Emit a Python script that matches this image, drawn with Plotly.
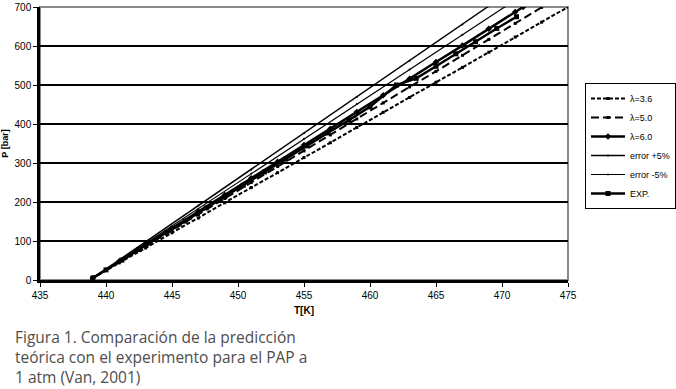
import plotly.graph_objects as go

# ---- data ----
T_model = [439, 441, 443, 445, 447, 449, 451, 453, 455, 457, 459, 461, 463, 465, 467, 469, 471, 473, 475]
P_l36 = [5, 44, 82, 121, 159, 198, 237, 275, 314, 352, 391, 430, 468, 507, 545, 584, 623, 661, 700]

T_l50 = [439, 441, 443, 445, 447, 449, 451, 453, 455, 457, 459, 461, 463, 465, 467, 469, 471, 473]
P_l50 = [5, 46, 87, 127, 168, 209, 250, 291, 331, 372, 413, 454, 495, 535, 576, 617, 658, 699]

T_l60 = [439, 441, 443, 445, 447, 449, 451, 453, 455, 457, 459, 461, 463, 465, 467, 469, 471, 471.6]
P_l60 = [5, 48, 90, 133, 175, 218, 261, 303, 346, 388, 431, 474, 516, 559, 601, 644, 687, 700]

T_errp = [439, 443, 447, 451, 455, 459, 463, 467, 468.9]
P_errp = [5, 98, 191, 283, 376, 469, 562, 655, 700]

T_errm = [439, 443, 447, 451, 455, 459, 463, 467, 470.2]
P_errm = [5, 94, 183, 273, 362, 451, 540, 629, 700]

T_exp = [439.0, 440.0, 441.2, 442.5, 443.3, 444.6, 446.0, 447.6, 449.0, 450.4, 452.0, 453.6,
         455.2, 456.8, 458.4, 460.0, 462.0, 463.5, 465.0, 466.5, 468.0, 469.6, 471.1]
P_exp = [5, 26, 51, 78, 95, 122, 151, 185, 214, 243, 277, 310,
         344, 377, 410, 444, 500, 517, 548, 580, 611, 645, 675]

x_ticks = [435, 440, 445, 450, 455, 460, 465, 470, 475]
y_ticks = [0, 100, 200, 300, 400, 500, 600, 700]

caption = ("Figura 1. Comparación de la predicción<br>"
           "teórica con el experimento para el PAP a<br>"
           "1 atm (Van, 2001)")

fig = go.Figure()

fig.add_trace(go.Scatter(x=T_model, y=P_l36, name="λ=3.6", legendgroup="a", mode="lines+markers",
                         line=dict(color="black", width=2, dash="4px,2px"),
                         marker=dict(symbol="square", size=3, color="black")))
fig.add_trace(go.Scatter(x=T_l50, y=P_l50, name="λ=5.0", legendgroup="b", mode="lines+markers",
                         line=dict(color="black", width=2, dash="8px,4px"),
                         marker=dict(symbol="square", size=3, color="black")))
fig.add_trace(go.Scatter(x=T_l60, y=P_l60, name="λ=6.0", legendgroup="c", mode="lines+markers",
                         line=dict(color="black", width=2.5),
                         marker=dict(symbol="diamond", size=5, color="black")))
fig.add_trace(go.Scatter(x=T_errp, y=P_errp, name="error +5%", legendgroup="d", mode="lines+markers",
                         line=dict(color="black", width=1.5),
                         marker=dict(symbol="circle", size=2, color="black")))
fig.add_trace(go.Scatter(x=T_errm, y=P_errm, name="error -5%", legendgroup="e", mode="lines+markers",
                         line=dict(color="black", width=1.2),
                         marker=dict(symbol="circle", size=2, color="black")))
fig.add_trace(go.Scatter(x=T_exp, y=P_exp, name="EXP.", legendgroup="f", mode="lines+markers",
                         line=dict(color="black", width=2.5),
                         marker=dict(symbol="square", size=5, color="black")))

PLOT_TOP, PLOT_BOT, PLOT_L, PLOT_R = 7, 280, 40, 568


def py(p):
    return (PLOT_BOT - p) / (PLOT_BOT - PLOT_TOP)


def px(p):
    return (p - PLOT_L) / (PLOT_R - PLOT_L)


annotations = [dict(text=caption, xref="paper", yref="paper", x=px(13), y=py(357),
                    xanchor="left", yanchor="middle", align="left", showarrow=False,
                    font=dict(family="Open Sans, sans-serif", size=15.5, color="#4d4d4d"))]

fig.update_layout(
    width=676, height=389,
    margin=dict(l=PLOT_L, r=676 - PLOT_R, t=PLOT_TOP, b=389 - PLOT_BOT, autoexpand=False),
    paper_bgcolor="white", plot_bgcolor="white",
    font=dict(family="Liberation Sans, Arial, sans-serif", size=10, color="black"),
    showlegend=True,
    legend=dict(x=px(585), xanchor="left", y=py(83), yanchor="top",
                bordercolor="black", borderwidth=1, bgcolor="white",
                font=dict(size=9, family="Liberation Sans, Arial, sans-serif"),
                tracegroupgap=0, itemwidth=34),
    xaxis=dict(range=[435, 475], tickvals=x_ticks, ticks="outside", ticklen=4, tickwidth=1,
               tickcolor="black", showgrid=False, zeroline=False, automargin=False,
               showline=True, linecolor="black", linewidth=2.5,
               tickfont=dict(size=10),
               title=dict(text="<b>T[K]</b>", font=dict(size=10), standoff=8)),
    yaxis=dict(range=[0, 700], tickvals=y_ticks, ticks="outside", ticklen=4, tickwidth=1,
               tickcolor="black", showgrid=True, gridcolor="black", gridwidth=2,
               zeroline=False, showline=True, linecolor="black", linewidth=2.5, automargin=False,
               tickfont=dict(size=10),
               title=dict(text="<b>P [bar]</b>", font=dict(size=9), standoff=6)),
    shapes=[dict(type="rect", xref="paper", yref="paper", x0=0, x1=1, y0=0, y1=1,
                 line=dict(color="#888888", width=2), layer="below")],
    annotations=annotations,
)

fig.write_html("out.html", config={"displayModeBar": False},
               post_script="document.body.style.margin='0px';")
